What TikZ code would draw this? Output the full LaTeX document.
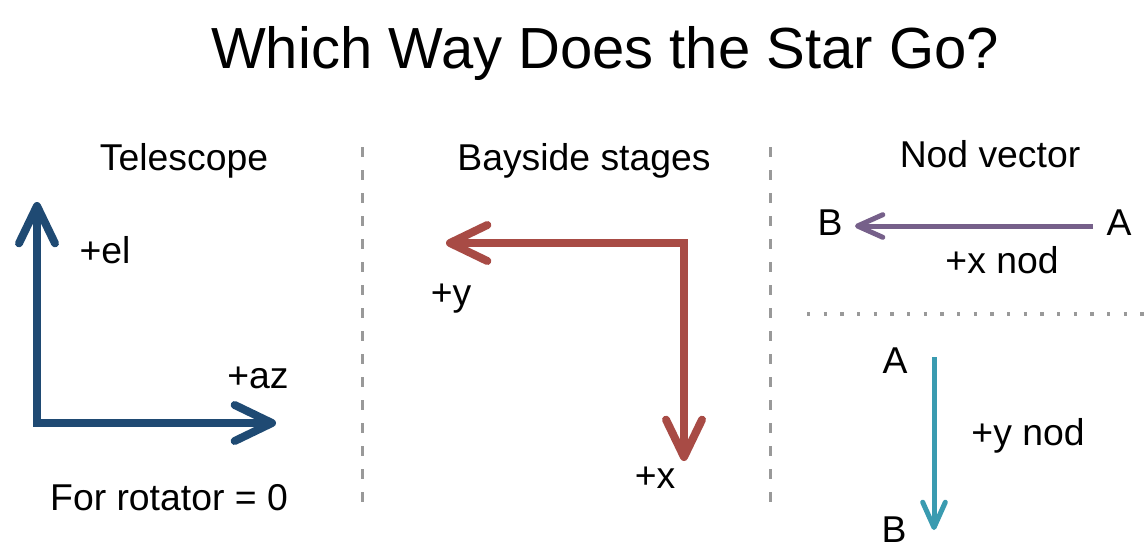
\documentclass[tikz,border=0pt]{standalone}
\usepackage{fontspec}
\setmainfont{Liberation Sans}
\usetikzlibrary{arrows.meta}
\definecolor{telblue}{HTML}{1F4A73}
\definecolor{bayred}{HTML}{A84B45}
\definecolor{nodpurple}{HTML}{76608A}
\definecolor{nodteal}{HTML}{3A9BB0}
\definecolor{sepgray}{HTML}{999999}
\begin{document}
\begin{tikzpicture}[x=0.75pt,y=-0.75pt,
  lbl/.style={inner sep=0pt,anchor=base,font=\fontsize{28}{33}\selectfont},
  ttl/.style={inner sep=0pt,anchor=base,font=\fontsize{43.5}{52}\selectfont},
  bigarrow/.style={line width=6pt,line join=miter,
    {Straight Barb[length=28pt,width=27pt,round]}-{Straight Barb[length=28pt,width=27pt,round]}},
  smallarrow/.style={line width=3.75pt,-{Straight Barb[length=19pt,width=17pt,round]}},
  sepdash/.style={draw=sepgray,line width=2.25pt,dash pattern=on 7.5pt off 9.75pt},
  sepdot/.style={draw=sepgray,line width=2.4pt,dash pattern=on 2.4pt off 10.1pt}]
\useasboundingbox (0,0) rectangle (1145,557);
% title
\node[ttl] (title) at (605,68) {Which Way Does the Star Go?};
% separators
\coordinate (s1a) at (362,147); \coordinate (s1b) at (362,515);
\coordinate (s2a) at (770,147); \coordinate (s2b) at (770,515);
\coordinate (s3a) at (807,314); \coordinate (s3b) at (1145,314);
\draw[sepdash] (s1a) -- (s1b);
\draw[sepdash] (s2a) -- (s2b);
\draw[sepdot] (s3a) -- (s3b);
% headings
\node[lbl] (htel) at (184,170) {Telescope};
\node[lbl] (hbay) at (584,170) {Bayside stages};
\node[lbl] (hnod) at (990,167) {Nod vector};
% telescope
\coordinate (tc) at (37,423);
\coordinate (tup) at (37,202);
\coordinate (tright) at (276,423);
\draw[bigarrow,draw=telblue] (tup) -- (tc) -- (tright);
\node[lbl] (el) at (105,263) {+el};
\node[lbl] (az) at (258,388) {+az};
\node[lbl] (rot) at (169,510) {For rotator = 0};
% bayside
\coordinate (bc) at (684,243);
\coordinate (bleft) at (446,243);
\coordinate (bdown) at (684,461);
\draw[bigarrow,draw=bayred] (bleft) -- (bc) -- (bdown);
\node[lbl] (by) at (451,305) {+y};
\node[lbl] (bx) at (655,488) {+x};
% nod x
\node[lbl] (na) at (1119,235) {A};
\node[lbl] (nb) at (830,235) {B};
\coordinate (nxs) at (1093,226);
\coordinate (nxe) at (855,226);
\draw[smallarrow,draw=nodpurple] (nxs) -- (nxe);
\node[lbl] (nxl) at (1002,273) {+x nod};
% nod y
\node[lbl] (ma) at (895,373) {A};
\node[lbl] (mb) at (894,542) {B};
\coordinate (nys) at (934,357);
\coordinate (nye) at (934,530);
\draw[smallarrow,draw=nodteal] (nys) -- (nye);
\node[lbl] (nyl) at (1028,445) {+y nod};
\end{tikzpicture}
\end{document}
